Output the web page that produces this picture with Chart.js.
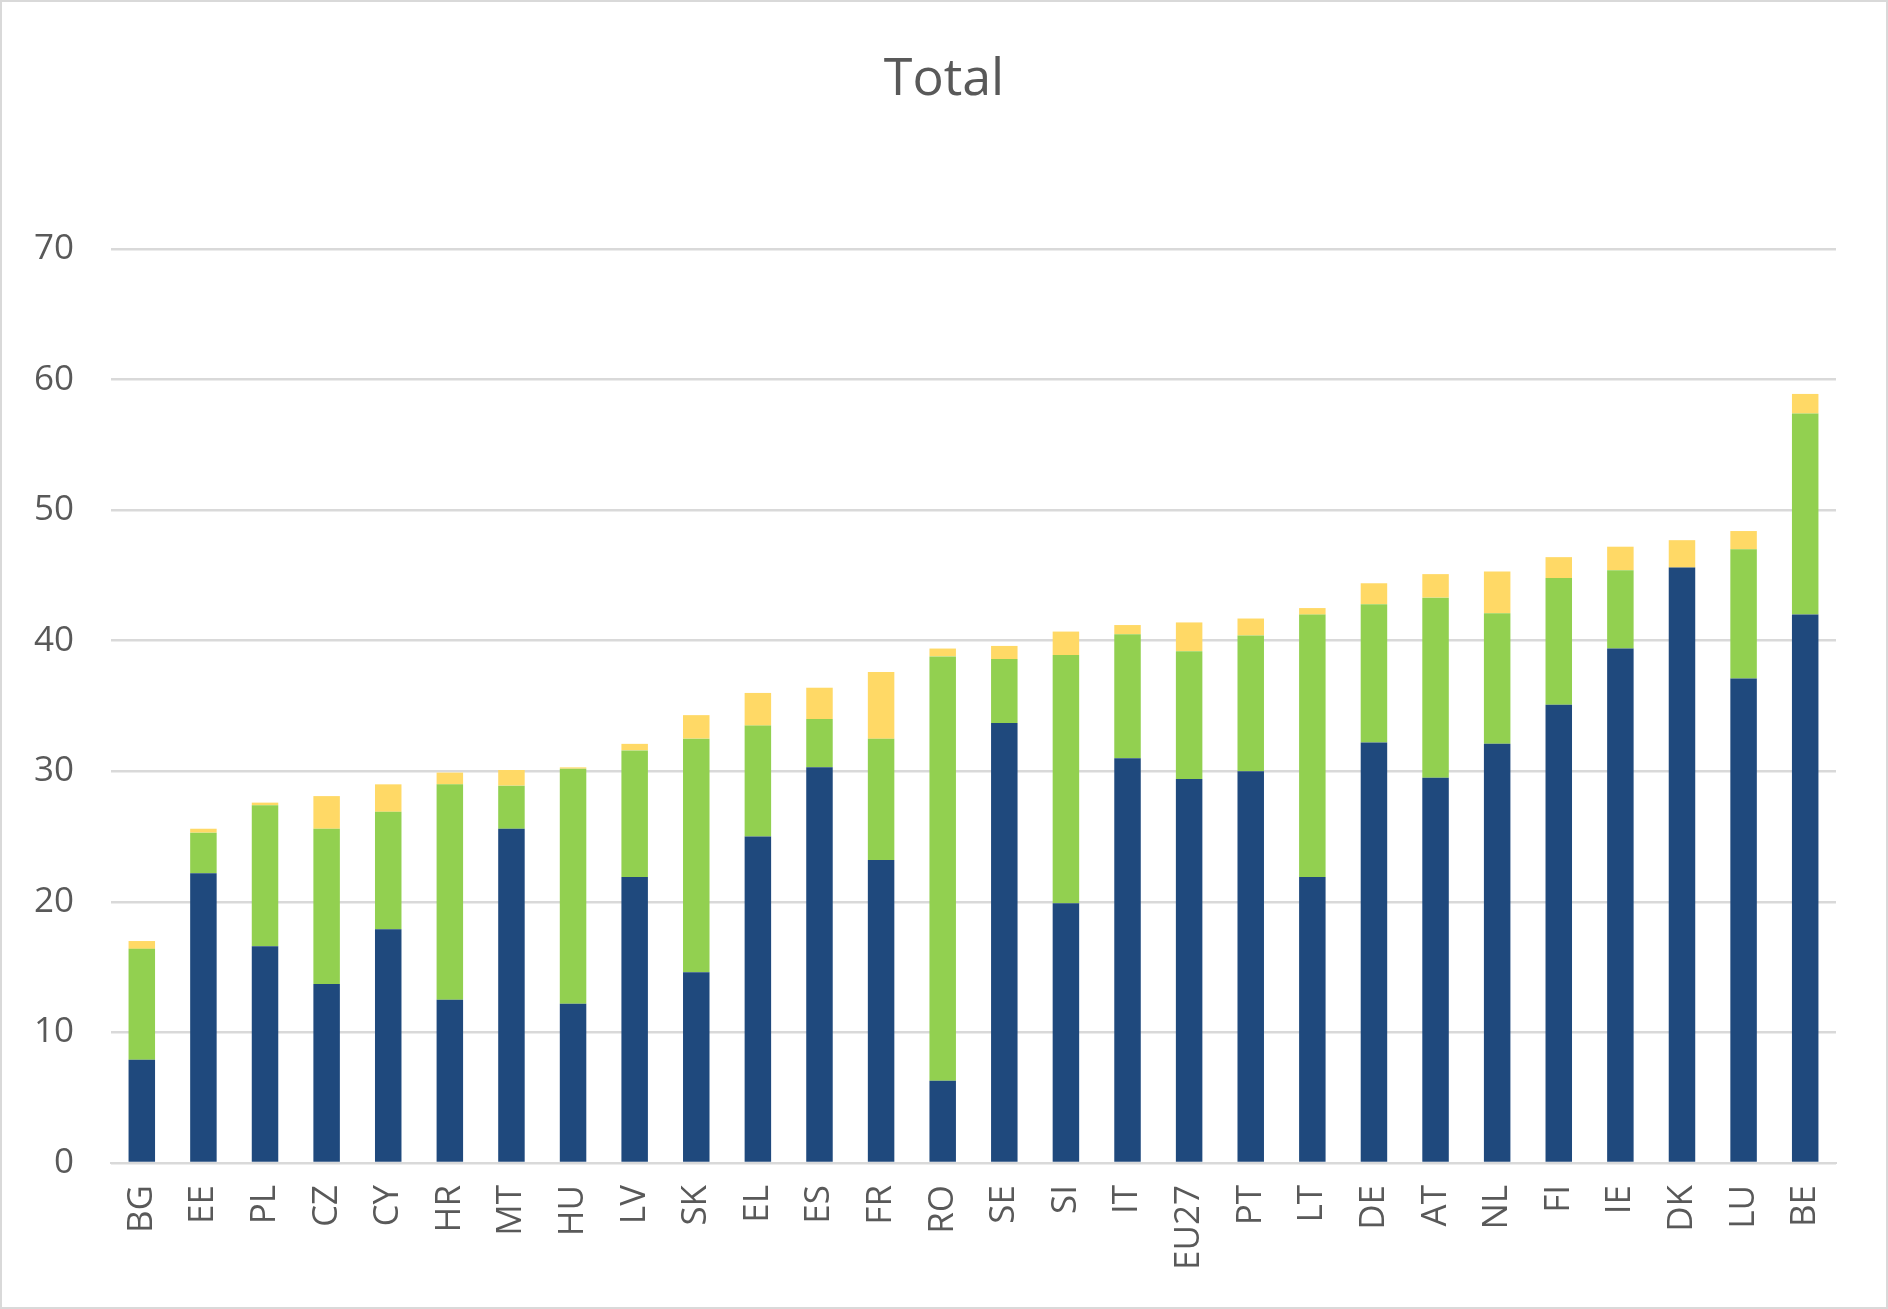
<!DOCTYPE html>
<html>
<head>
<meta charset="utf-8">
<script src="https://cdn.jsdelivr.net/npm/chart.js@4"></script>
<style>
  body { margin: 0; background: #fff; }
</style>
</head>
<body>
<canvas id="totalChart" width="1888" height="1309"></canvas>
<script>
  const countries = ["BG", "EE", "PL", "CZ", "CY", "HR", "MT", "HU", "LV", "SK", "EL", "ES", "FR", "RO",
    "SE", "SI", "IT", "EU27", "PT", "LT", "DE", "AT", "NL", "FI", "IE", "DK", "LU", "BE"];

  // bottom segment (dark blue)
  const blueValues = [7.9, 22.2, 16.6, 13.7, 17.9, 12.5, 25.6, 12.2, 21.9, 14.6, 25.0, 30.3, 23.2, 6.3,
    33.7, 19.9, 31.0, 29.4, 30.0, 21.9, 32.2, 29.5, 32.1, 35.1, 39.4, 45.6, 37.1, 42.0];
  // middle segment (green)
  const greenValues = [8.5, 3.1, 10.8, 11.9, 9.0, 16.5, 3.3, 18.0, 9.7, 17.9, 8.5, 3.7, 9.3, 32.5,
    4.9, 19.0, 9.5, 9.8, 10.4, 20.1, 10.6, 13.8, 10.0, 9.7, 6.0, 0, 9.9, 15.4];
  // top segment (yellow)
  const yellowValues = [0.6, 0.3, 0.2, 2.5, 2.1, 0.9, 1.2, 0.1, 0.5, 1.8, 2.5, 2.4, 5.1, 0.6,
    1.0, 1.8, 0.7, 2.2, 1.3, 0.5, 1.6, 1.8, 3.2, 1.6, 1.8, 2.1, 1.4, 1.5];

  const yTicks = [0, 10, 20, 30, 40, 50, 60, 70];
  const chartTitle = "Total";

  const textColor = "#595959";
  const gridColor = "#d9d9d9";
  const fontFamily = "'Open Sans', 'Noto Sans', sans-serif";

  // white background, outer frame and a title centred on the whole canvas
  const frame = {
    id: "frame",
    beforeDraw: (chart) => {
      const c = chart.ctx;
      c.save();
      c.fillStyle = "#ffffff";
      c.fillRect(0, 0, chart.width, chart.height);
      c.restore();
    },
    afterDraw: (chart) => {
      const c = chart.ctx;
      c.save();
      c.strokeStyle = gridColor;
      c.lineWidth = 2;
      c.strokeRect(1, 1, chart.width - 2, chart.height - 2);
      c.fillStyle = textColor;
      c.font = "52px " + fontFamily;
      c.textAlign = "center";
      c.textBaseline = "middle";
      c.fillText(chartTitle, chart.width / 2, 80);
      c.restore();
    },
  };

  const ctx = document.getElementById("totalChart").getContext("2d");
  new Chart(ctx, {
    type: "bar",
    data: {
      labels: countries,
      datasets: [
        { label: "Series 1", data: blueValues, backgroundColor: "#1f497d" },
        { label: "Series 2", data: greenValues, backgroundColor: "#92d050" },
        { label: "Series 3", data: yellowValues, backgroundColor: "#ffd966" },
      ],
    },
    options: {
      responsive: false,
      animation: false,
      devicePixelRatio: 1,
      datasets: {
        bar: { categoryPercentage: 1, barPercentage: 0.43, borderWidth: 0 },
      },
      layout: { padding: { left: 0, right: 52, top: 249, bottom: 0 } },
      plugins: {
        legend: { display: false },
        tooltip: { enabled: false },
        title: { display: false },
      },
      scales: {
        x: {
          stacked: true,
          grid: { display: false },
          border: { display: true, color: gridColor, width: 2 },
          ticks: {
            color: textColor,
            font: { family: fontFamily, size: 35 },
            minRotation: 90,
            maxRotation: 90,
            padding: 14,
            autoSkip: false,
          },
          afterFit: (scale) => { scale.height = 146; },
        },
        y: {
          stacked: true,
          min: 0,
          max: 70,
          afterBuildTicks: (scale) => { scale.ticks = yTicks.map((v) => ({ value: v })); },
          grid: { color: gridColor, lineWidth: 2.5, drawTicks: false },
          border: { display: false },
          ticks: {
            color: textColor,
            font: { family: fontFamily, size: 35 },
            padding: 37,
          },
          afterFit: (scale) => { scale.width = 111; },
        },
      },
    },
    plugins: [frame],
  });
</script>
</body>
</html>
